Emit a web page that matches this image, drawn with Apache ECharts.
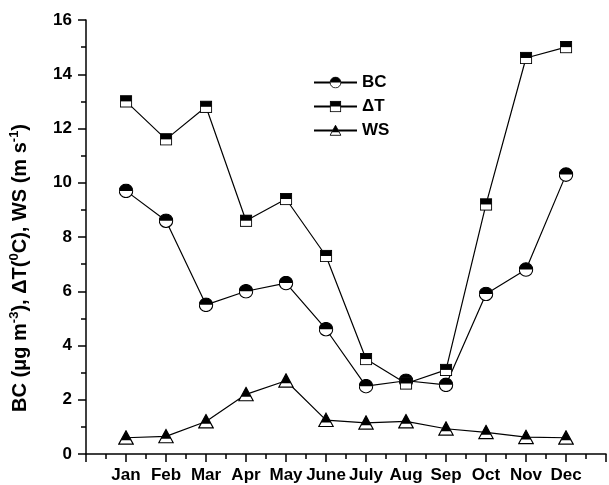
<!DOCTYPE html>
<html>
<head>
<meta charset="utf-8">
<script src="https://cdn.jsdelivr.net/npm/echarts@6/dist/echarts.min.js"></script>
<style>
  html, body { margin: 0; padding: 0; background: #fff; }
  #chart { width: 609px; height: 485px; }
</style>
</head>
<body>
<div id="chart"></div>
<script>
// months sit at x = 1..12 on a value axis so the axis can start half a step left of Jan
const months = ['Jan', 'Feb', 'Mar', 'Apr', 'May', 'June', 'July', 'Aug', 'Sep', 'Oct', 'Nov', 'Dec'];
const bcValues = [9.7, 8.6, 5.5, 6.0, 6.3, 4.6, 2.5, 2.7, 2.55, 5.9, 6.8, 10.3];
const dtValues = [13.0, 11.6, 12.8, 8.6, 9.4, 7.3, 3.5, 2.6, 3.1, 9.2, 14.6, 15.0];
const wsValues = [0.6, 0.65, 1.2, 2.2, 2.7, 1.25, 1.15, 1.2, 0.93, 0.8, 0.62, 0.6];

const svgIcon = (body) => 'image://data:image/svg+xml;charset=utf-8,' + encodeURIComponent(
    "<svg xmlns='http://www.w3.org/2000/svg' width='30' height='30' viewBox='0 0 30 30'>" + body + "</svg>");

const circleIcon = svgIcon(
    "<circle cx='15' cy='15' r='13.5' fill='#fff' stroke='#000' stroke-width='2.2'/>" +
    "<path d='M1.5,15 A13.5,13.5 0 0 1 28.5,15 Z' fill='#000'/>");
const squareIcon = svgIcon(
    "<rect x='2' y='2' width='26' height='26' fill='#fff' stroke='#000' stroke-width='2.2'/>" +
    "<rect x='2' y='2' width='26' height='13' fill='#000'/>");
const triangleIcon = svgIcon(
    "<path d='M15,2 L28.5,27 L1.5,27 Z' fill='#fff' stroke='#000' stroke-width='2.2' stroke-linejoin='miter'/>" +
    "<path d='M15,2 L24.5,19.5 L5.5,19.5 Z' fill='#000'/>");

function toPairs(values) {
    let out = [];
    for (let i = 0; i < values.length; i++) {
        out.push([i + 1, values[i]]);
    }
    return out;
}

function makeSeries(name, values, icon, size) {
    return {
        name: name,
        type: 'line',
        data: toPairs(values),
        symbol: icon,
        symbolSize: size,
        showAllSymbol: true,
        lineStyle: { color: '#000', width: 1.2 },
        itemStyle: { color: '#000' },
        emphasis: { disabled: true },
        animation: false,
        z: 3
    };
}

let dom = document.getElementById('chart');
let myChart = echarts.init(dom, null, { renderer: 'canvas' });

const axisFont = { fontFamily: 'Liberation Sans, Arial, sans-serif', fontWeight: 'bold', color: '#000' };

option = {
    backgroundColor: '#fff',
    animation: false,
    grid: { left: 76, top: 20, bottom: 31, right: -6 },
    legend: {
        orient: 'vertical',
        left: 313,
        top: 74,
        padding: 0,
        itemWidth: 43,
        itemHeight: 15,
        itemGap: 7,
        textStyle: Object.assign({ fontSize: 17 }, axisFont),
        data: ['BC', 'ΔT', 'WS']
    },
    xAxis: {
        type: 'value',
        min: 0,
        max: 13,
        interval: 1,
        splitLine: { show: false },
        axisLine: { onZero: false, lineStyle: { color: '#000', width: 1.5 } },
        axisTick: { length: 8, lineStyle: { color: '#000', width: 1.5 } },
        minorTick: { show: true, splitNumber: 2, length: 5, lineStyle: { color: '#000', width: 1.5 } },
        axisLabel: Object.assign({
            fontSize: 17,
            margin: 13,
            showMinLabel: true,
            showMaxLabel: true,
            formatter: (v) => (v >= 1 && v <= 12) ? months[v - 1] : ''
        }, axisFont)
    },
    yAxis: {
        type: 'value',
        min: 0,
        max: 16,
        interval: 2,
        splitLine: { show: false },
        axisLine: { show: true, lineStyle: { color: '#000', width: 1.5 } },
        axisTick: { show: true, length: 8, lineStyle: { color: '#000', width: 1.5 } },
        minorTick: { show: true, splitNumber: 2, length: 5, lineStyle: { color: '#000', width: 1.5 } },
        axisLabel: Object.assign({ fontSize: 17, margin: 14 }, axisFont),
        name: '{t|BC (μg m}{s|-3}{t|), ΔT(}{s|0}{t|C), WS (m s}{s|-1}{t|)}',
        nameLocation: 'middle',
        nameGap: 54,
        nameTextStyle: Object.assign({
            fontSize: 20,
            padding: [0, 62, 0, 0],
            rich: {
                t: Object.assign({ fontSize: 20, lineHeight: 24 }, axisFont),
                s: Object.assign({ fontSize: 13, lineHeight: 24, verticalAlign: 'top' }, axisFont)
            }
        }, axisFont)
    },
    series: [
        makeSeries('BC', bcValues, circleIcon, 15),
        makeSeries('ΔT', dtValues, squareIcon, 13),
        makeSeries('WS', wsValues, triangleIcon, 16)
    ]
};

if (option && typeof option === 'object') {
    myChart.setOption(option);
}
window.addEventListener('resize', myChart.resize);
</script>
</body>
</html>
